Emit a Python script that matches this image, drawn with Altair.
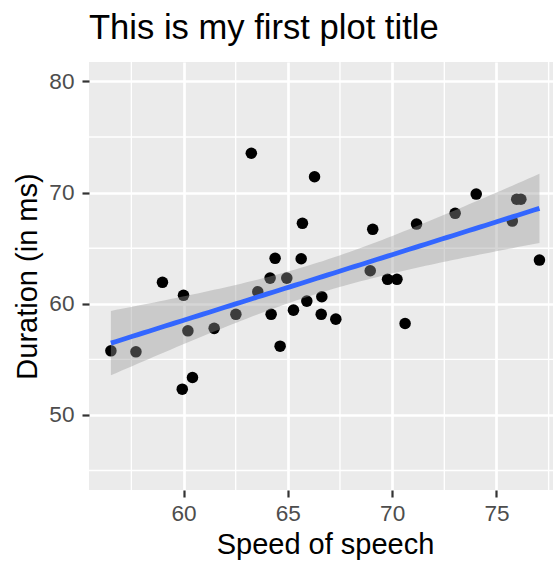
import altair as alt
import numpy as np
import pandas as pd

# Data
speed = [56.52, 57.72, 58.99, 60.00, 59.94, 60.43, 60.21, 61.47, 62.51, 63.25,
         63.56, 64.15, 64.20, 64.39, 64.63, 64.95, 65.27, 65.64, 65.70, 65.91,
         66.28, 66.63, 66.60, 67.30, 68.95, 69.07, 69.78, 70.23, 70.62, 71.17,
         73.02, 74.03, 75.76, 75.97, 76.17, 77.06]
duration = [55.77, 55.68, 61.93, 60.76, 52.32, 53.37, 57.57, 57.79, 59.05, 73.54,
            61.08, 62.31, 59.05, 64.09, 56.19, 62.31, 59.43, 64.05, 67.24, 60.24,
            71.43, 60.63, 59.05, 58.62, 62.97, 66.70, 62.20, 62.20, 58.23, 67.17,
            68.14, 69.87, 67.44, 69.40, 69.40, 63.93]

x_ticks = [60, 65, 70, 75]
y_ticks = [50, 60, 70, 80]
x_minor = [57.5, 62.5, 67.5, 72.5, 77.5]
y_minor = [45, 55, 65, 75]

df = pd.DataFrame({"speed": speed, "duration": duration})

# Linear model fit with 95% confidence band (like geom_smooth(method="lm"))
x = np.array(speed)
y = np.array(duration)
n = len(x)
slope, intercept = np.polyfit(x, y, 1)
resid = y - (intercept + slope * x)
s = np.sqrt(np.sum(resid ** 2) / (n - 2))
xbar = x.mean()
sxx = np.sum((x - xbar) ** 2)
t_q = 2.032245  # qt(0.975, 34)
grid = np.linspace(x.min(), x.max(), 80)
fit = intercept + slope * grid
se = s * np.sqrt(1.0 / n + (grid - xbar) ** 2 / sxx)
band = pd.DataFrame({"speed": grid, "duration": fit,
                     "lo": fit - t_q * se, "hi": fit + t_q * se})

FONT = "Liberation Sans"
xs = alt.Scale(domain=[55.47, 77.71], nice=False, zero=False)
ys = alt.Scale(domain=[43.25, 81.75], nice=False, zero=False)

x_axis = alt.Axis(values=x_ticks, format="d", grid=True, gridColor="white",
                  gridWidth=2.7, domain=False, tickColor="#333333", tickWidth=2.2,
                  tickSize=7, labelFontSize=22.6, labelColor="#4D4D4D",
                  labelFont=FONT, labelPadding=5, labelFlush=False,
                  labelOverlap=False, titleFontSize=29, titleColor="black",
                  titleFont=FONT, titleFontWeight="normal", titleX=236, titleY=63,
                  titleBaseline="alphabetic", titleAlign="center")
y_axis = alt.Axis(values=y_ticks, format="d", grid=True, gridColor="white",
                  gridWidth=2.7, domain=False, tickColor="#333333", tickWidth=2.2,
                  tickSize=7, labelFontSize=22.6, labelColor="#4D4D4D",
                  labelFont=FONT, labelPadding=8, labelFlush=False,
                  labelOverlap=False, titleFontSize=29, titleColor="black",
                  titleFont=FONT, titleFontWeight="normal", titleAngle=270,
                  titleX=-53, titleY=214, titleBaseline="alphabetic",
                  titleAlign="center")


def X(field):
    return alt.X(f"{field}:Q", scale=xs, axis=x_axis, title="Speed of speech")


def Y(field):
    return alt.Y(f"{field}:Q", scale=ys, axis=y_axis, title="Duration (in ms)")


minor_x = alt.Chart(pd.DataFrame({"speed": x_minor})).mark_rule(
    color="white", strokeWidth=1.35).encode(x=X("speed"))
minor_y = alt.Chart(pd.DataFrame({"duration": y_minor})).mark_rule(
    color="white", strokeWidth=1.35).encode(y=Y("duration"))

points = alt.Chart(df).mark_circle(color="black", opacity=1, size=133).encode(
    x=X("speed"), y=Y("duration"))

ribbon = alt.Chart(band).mark_area(color="#999999", opacity=0.4).encode(
    x=X("speed"), y=Y("lo"), y2="hi:Q")

line = alt.Chart(band).mark_line(color="#3366FF", strokeWidth=4.8).encode(
    x=X("speed"), y=Y("duration"))

chart = alt.layer(minor_x, minor_y, points, ribbon, line).properties(
    width=464, height=428,
    title=alt.TitleParams("This is my first plot title", anchor="start",
                          fontSize=34.6, font=FONT, fontWeight="normal",
                          color="black", offset=15, frame="group"),
    autosize=alt.AutoSizeParams(type="none"),
    padding={"left": 89, "top": 62, "right": 0, "bottom": 71},
    background="white",
).configure_view(fill="#EBEBEB", strokeWidth=0)

chart.save("out.html", embed_options={"renderer": "svg", "actions": False})
